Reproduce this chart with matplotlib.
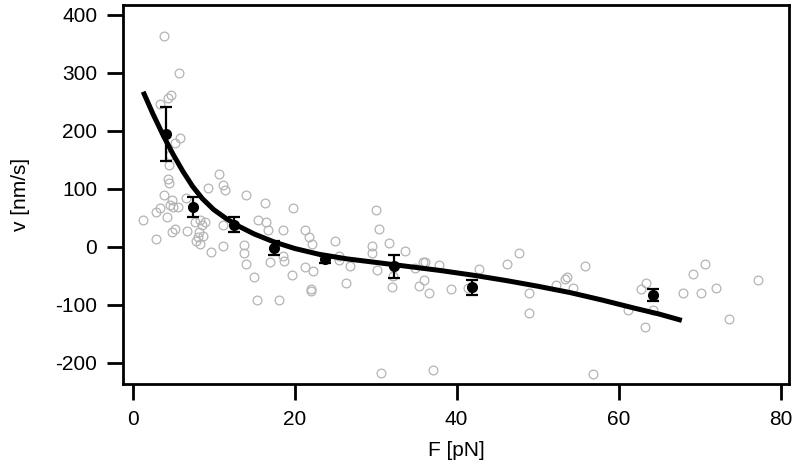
import matplotlib
matplotlib.use("Agg")
import matplotlib.pyplot as plt

plt.rcParams['font.family'] = ['Liberation Sans', 'DejaVu Sans']
plt.rcParams['axes.unicode_minus'] = False

# single measurements (open grey circles)
force = [1.3, 2.9, 2.9, 3.4, 3.9, 3.4, 4.4, 4.7, 5.75, 5.8,
         5.2, 4.6, 4.5, 4.4, 4.5, 3.9, 4.8, 4.6, 5.0, 5.6,
         4.3, 4.9, 5.2, 6.6, 6.7, 7.7, 8.3, 8.9, 8.6, 8.2,
         8.7, 7.8, 8.3, 8.1, 9.3, 10.7, 11.2, 11.4, 9.7, 11.1,
         11.2, 14.0, 16.3, 19.8, 15.5, 16.5, 16.7, 18.6, 13.8, 13.7,
         14.0, 15.0, 15.3, 18.1, 16.9, 18.6, 18.7, 19.7, 21.3, 21.8,
         22.2, 21.3, 22.3, 22.0, 22.0, 25.0, 25.5, 25.5, 26.8, 26.4,
         29.6, 29.5, 30.0, 30.4, 31.6, 32.0, 32.2, 30.2, 33.6, 34.9,
         35.8, 36.1, 37.8, 35.3, 36.0, 36.6, 39.3, 41.4, 42.8, 46.2,
         47.7, 48.9, 48.9, 52.3, 53.4, 53.6, 54.4, 55.8, 30.7, 37.1,
         56.8, 61.1, 62.8, 63.4, 64.3, 63.2, 67.9, 69.2, 70.7, 70.2,
         72.0, 73.6, 77.2]
speed = [46, 14, 59, 66, 363, 245, 257, 261, 300, 188,
         178, 158, 141, 117, 110, 89, 80, 72, 69, 69,
         52, 26, 30, 84, 27, 43, 46, 43, 37, 26,
         18, 10, 5, 17, 101, 126, 106, 98, -9, 2,
         37, 89, 75, 66, 46, 43, 29, 28, 3, -11,
         -29, -53, -92, -91, -26, -16, -24, -48, 29, 16,
         5, -35, -41, -73, -77, 9, -16, -23, -33, -62,
         1, -11, 64, 30, 6, -70, -50, -40, -7, -37,
         -26, -27, -32, -67, -57, -79, -72, -71, -39, -30,
         -11, -79, -115, -66, -56, -52, -71, -33, -218, -213,
         -219, -109, -73, -62, -109, -138, -80, -47, -29, -79,
         -71, -124, -57]

# binned averages with error bars
bin_force = [4.1, 7.4, 12.5, 17.4, 23.7, 32.3, 41.9, 64.3]
bin_speed = [194, 68, 38, -2, -22, -34, -70, -83]
bin_err = [46, 17, 13, 12, 6, 20, 13, 11]

# fitted curve
fit_force = [1.3, 2.5, 3.8, 5.0, 6.2, 7.4, 8.6, 10.0, 11.5, 13.0,
             15.0, 17.5, 20.0, 23.0, 26.5, 30.0, 34.0, 38.0, 42.0, 46.0,
             50.0, 54.0, 58.0, 62.0, 65.0, 67.8]
fit_speed = [267, 229, 191, 159, 130, 104, 83, 64, 49, 36,
             22, 8, -3, -13, -21, -27, -34, -41, -49, -58,
             -68, -79, -92, -106, -116, -127]

fig = plt.figure(figsize=(7.93, 4.68), dpi=100)
ax = fig.add_axes([0.1551, 0.1795, 0.8399, 0.8098])

ax.plot(force, speed, 'o', ms=6.3, mfc='none', mec='#b4b4b4', mew=0.9)
ax.plot(fit_force, fit_speed, '-', color='black', lw=3.6,
        solid_capstyle='butt', solid_joinstyle='round')
ax.errorbar(bin_force, bin_speed, yerr=bin_err, fmt='o', color='black',
            ms=7, elinewidth=1.6, capsize=4, capthick=1.6)

ax.set_xlim(-1.19, 81.04)
ax.set_ylim(-236.5, 416.4)
ax.set_xticks([0, 20, 40, 60, 80])
ax.set_yticks([-200, -100, 0, 100, 200, 300, 400])

for s in ax.spines.values():
    s.set_linewidth(2)
ax.tick_params(axis='both', length=11.5, width=2, labelsize=15)
ax.tick_params(axis='x', pad=7)
ax.tick_params(axis='y', pad=7)

ax.set_xlabel('F [pN]', fontsize=15, labelpad=9)
ax.set_ylabel('v [nm/s]', fontsize=15, labelpad=18)

fig.savefig('out.png', dpi=100)
